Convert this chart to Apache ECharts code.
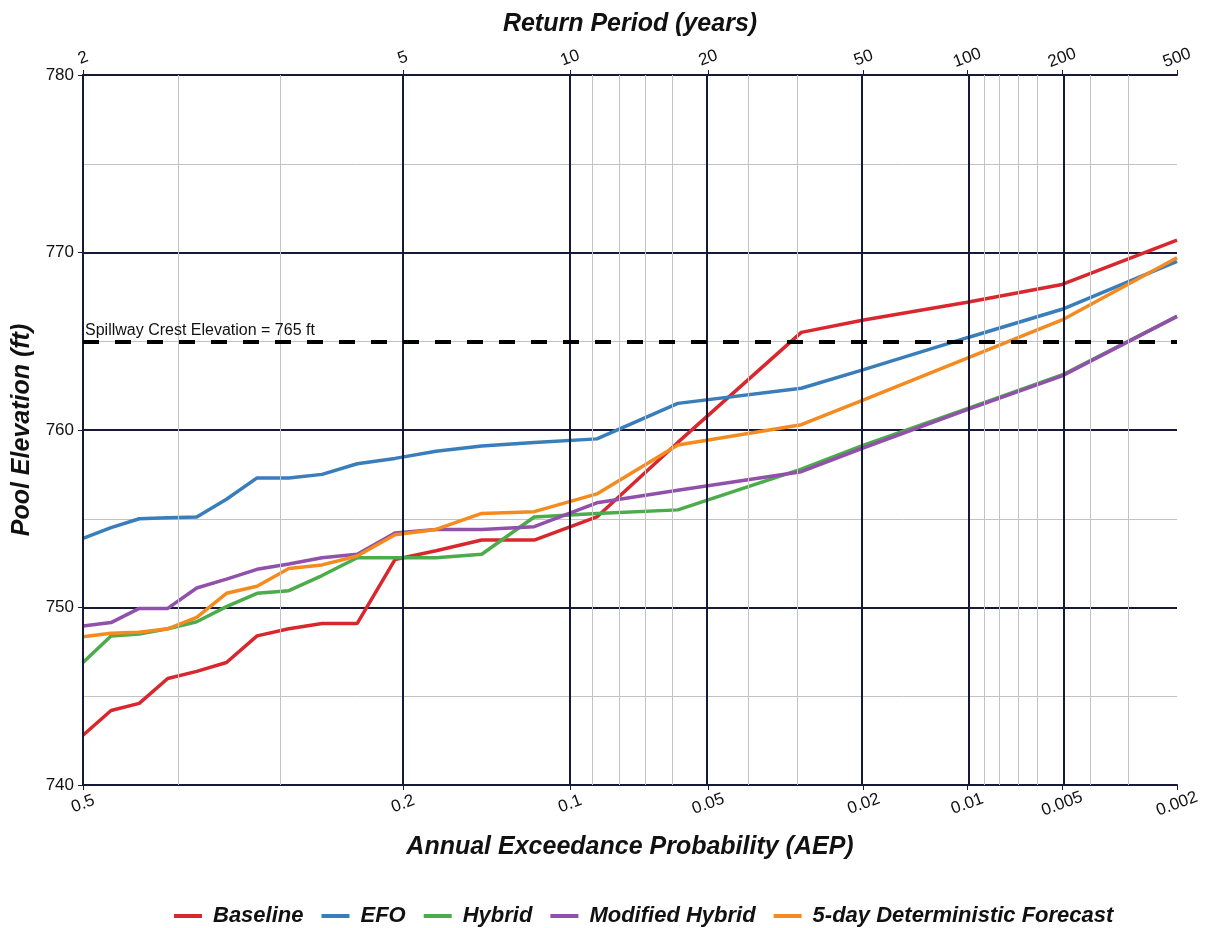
<!DOCTYPE html>
<html><head><meta charset="utf-8">
<script src="https://cdn.jsdelivr.net/npm/echarts@6/dist/echarts.min.js"></script>
<style>html,body{margin:0;padding:0;background:#fff}#c{width:1209px;height:928px}</style>
</head><body><div id="c"></div>
<script>
// Annual exceedance probabilities of the plotted points
const aep = [0.5, 0.4706, 0.4412, 0.4118, 0.3824, 0.3529, 0.3235, 0.2941, 0.2647, 0.2353, 0.2059,
             0.1765, 0.1471, 0.1176, 0.0882, 0.0588, 0.0294, 0.02, 0.01, 0.005, 0.002];
// Pool elevation (ft)
const baseline  = [742.8, 744.2, 744.6, 746.0, 746.4, 746.9, 748.4, 748.8, 749.1, 749.1, 752.7,
                   753.2, 753.8, 753.8, 755.1, 759.3, 765.5, 766.2, 767.2, 768.2, 770.7];
const efo       = [753.9, 754.5, 755.0, 755.05, 755.1, 756.1, 757.3, 757.3, 757.5, 758.1, 758.4,
                   758.8, 759.1, 759.3, 759.5, 761.5, 762.35, 763.4, 765.2, 766.8, 769.5];
const hybrid    = [746.9, 748.4, 748.5, 748.8, 749.2, 750.05, 750.8, 750.95, 751.8, 752.8, 752.8,
                   752.8, 753.0, 755.1, 755.3, 755.5, 757.8, 759.15, 761.2, 763.1, 766.4];
const modHybrid = [748.96, 749.15, 749.95, 749.95, 751.1, 751.6, 752.15, 752.45, 752.8, 753.0, 754.2,
                   754.4, 754.4, 754.55, 755.9, 756.6, 757.65, 759.0, 761.15, 763.05, 766.4];
const fiveDay   = [748.35, 748.55, 748.6, 748.8, 749.45, 750.8, 751.2, 752.2, 752.4, 752.9, 754.1,
                   754.4, 755.3, 755.4, 756.4, 759.15, 760.3, 761.7, 764.05, 766.2, 769.7];
const seriesNames = ['Baseline', 'EFO', 'Hybrid', 'Modified Hybrid', '5-day Deterministic Forecast'];
// Axis ticks
const majorAEP = [0.5, 0.2, 0.1, 0.05, 0.02, 0.01, 0.005, 0.002];
const aepLabels = ['0.5', '0.2', '0.1', '0.05', '0.02', '0.01', '0.005', '0.002'];
const returnLabels = ['2', '5', '10', '20', '50', '100', '200', '500'];
const minorAEP = [0.4, 0.3, 0.09, 0.08, 0.07, 0.06, 0.04, 0.03, 0.009, 0.008, 0.007, 0.006, 0.004, 0.003];
const spillway = 765;

// normal-probability scale: standard normal quantile
function normInv(p) {
  const a = [-3.969683028665376e+01, 2.209460984245205e+02, -2.759285104469687e+02, 1.383577518672690e+02, -3.066479806614716e+01, 2.506628277459239e+00];
  const b = [-5.447609879822406e+01, 1.615858368580409e+02, -1.556989798598866e+02, 6.680131188771972e+01, -1.328068155288572e+01];
  const c = [-7.784894002430293e-03, -3.223964580411365e-01, -2.400758277161838e+00, -2.549732539343734e+00, 4.374664141464968e+00, 2.938163982698783e+00];
  const d = [7.784695709041462e-03, 3.224671290700398e-01, 2.445134137142996e+00, 3.754408661907416e+00];
  const pl = 0.02425, ph = 1 - pl;
  let q, r;
  if (p < pl) {
    q = Math.sqrt(-2 * Math.log(p));
    return (((((c[0]*q+c[1])*q+c[2])*q+c[3])*q+c[4])*q+c[5]) / ((((d[0]*q+d[1])*q+d[2])*q+d[3])*q+1);
  } else if (p <= ph) {
    q = p - 0.5; r = q*q;
    return (((((a[0]*r+a[1])*r+a[2])*r+a[3])*r+a[4])*r+a[5])*q / (((((b[0]*r+b[1])*r+b[2])*r+b[3])*r+b[4])*r+1);
  } else {
    q = Math.sqrt(-2 * Math.log(1 - p));
    return -(((((c[0]*q+c[1])*q+c[2])*q+c[3])*q+c[4])*q+c[5]) / ((((d[0]*q+d[1])*q+d[2])*q+d[3])*q+1);
  }
}
const zOf = p => -normInv(p);
const majorZ = majorAEP.map(zOf);
const zMin = zOf(0.5), zMax = zOf(0.002);

const FONT = "Arial, 'Liberation Sans', sans-serif";
const DARK = '#161a38';
const colors = ['#d9272e', '#3a7dbb', '#4cab4a', '#9150a9', '#f58a1f'];
const values = [baseline, efo, hybrid, modHybrid, fiveDay];

function labelFor(list) {
  return v => {
    const i = majorZ.findIndex(z => Math.abs(z - v) < 1e-6);
    return i >= 0 ? list[i] : '';
  };
}
const titleStyle = {fontFamily: FONT, fontSize: 25, fontWeight: 'bold', fontStyle: 'italic', color: '#111'};
const tickLabel = {fontFamily: FONT, fontSize: 17, color: '#111'};

const gridLines = [
  ...minorAEP.map(a => ({xAxis: zOf(a), lineStyle: {color: '#c3c3c3', width: 1, type: 'solid'}})),
  ...majorAEP.map(a => ({xAxis: zOf(a), lineStyle: {color: DARK, width: 2, type: 'solid'}}))
];

const chart = echarts.init(document.getElementById('c'), null, {renderer: 'canvas'});
chart.setOption({
  animation: false,
  backgroundColor: '#fff',
  color: colors,
  grid: {left: 83, right: 32, top: 75, bottom: 143, containLabel: false, outerBoundsMode: 'none'},
  legend: {
    data: seriesNames, top: 900, left: 169,
    icon: 'rect', itemWidth: 28, itemHeight: 4, itemGap: 18,
    textStyle: {fontFamily: FONT, fontSize: 22, fontWeight: 'bold', fontStyle: 'italic', color: '#111', padding: [0, 0, 0, 6]}
  },
  xAxis: [
    {
      type: 'value', position: 'bottom', min: zMin, max: zMax,
      name: 'Annual Exceedance Probability (AEP)', nameLocation: 'middle', nameGap: 50,
      nameTextStyle: titleStyle,
      axisLine: {show: true, lineStyle: {color: DARK, width: 2}},
      axisTick: {show: true, inside: false, length: 5, customValues: majorZ, lineStyle: {color: DARK, width: 1}},
      axisLabel: Object.assign({customValues: majorZ, formatter: labelFor(aepLabels), rotate: 20,
        align: 'center', verticalAlign: 'middle', margin: 19, showMinLabel: true, showMaxLabel: true}, tickLabel),
      splitLine: {show: false}
    },
    {
      type: 'value', position: 'top', min: zMin, max: zMax,
      name: 'Return Period (years)', nameLocation: 'middle', nameGap: 38,
      nameTextStyle: titleStyle,
      axisLine: {show: true, lineStyle: {color: DARK, width: 2}},
      axisTick: {show: true, inside: false, length: 5, customValues: majorZ, lineStyle: {color: DARK, width: 1}},
      axisLabel: Object.assign({customValues: majorZ, formatter: labelFor(returnLabels), rotate: -20,
        align: 'center', verticalAlign: 'middle', margin: 17, showMinLabel: true, showMaxLabel: true}, tickLabel),
      splitLine: {show: false}
    }
  ],
  yAxis: {
    type: 'value', min: 740, max: 780, interval: 10,
    name: 'Pool Elevation (ft)', nameLocation: 'middle', nameGap: 46,
    nameTextStyle: titleStyle,
    axisLine: {show: true, lineStyle: {color: DARK, width: 2}},
    axisTick: {show: true, inside: false, length: 5, lineStyle: {color: DARK, width: 1}},
    axisLabel: Object.assign({margin: 9}, tickLabel),
    splitLine: {show: true, lineStyle: {color: DARK, width: 2}},
    minorTick: {show: false, splitNumber: 2},
    minorSplitLine: {show: true, lineStyle: {color: '#c3c3c3', width: 1}}
  },
  series: [
    {
      name: '_grid', type: 'line', xAxisIndex: 0, data: [[zMin, 740]], symbol: 'none', silent: true, z: 1,
      lineStyle: {width: 0}, legendHoverLink: false,
      markLine: {silent: true, symbol: ['none', 'none'], animation: false, label: {show: false}, data: gridLines}
    },
    {
      name: '_spill', type: 'line', xAxisIndex: 0, data: [[zMin, 740]], symbol: 'none', silent: true, z: 2,
      lineStyle: {width: 0},
      markLine: {
        silent: true, symbol: ['none', 'none'], animation: false,
        lineStyle: {color: '#000', width: 4, type: [16, 16]},
        label: {show: true, position: 'insideStartTop', distance: [2, 3], formatter: 'Spillway Crest Elevation = 765 ft',
          fontFamily: FONT, fontSize: 16, color: '#111'},
        data: [{yAxis: spillway}]
      }
    },
    ...seriesNames.map((n, k) => ({
      name: n, type: 'line', xAxisIndex: 0, z: 3, symbol: 'none', showSymbol: false,
      lineStyle: {width: 3.5, color: colors[k]}, itemStyle: {color: colors[k]},
      data: aep.map((a, i) => [zOf(a), values[k][i]])
    }))
  ]
});
</script>
</body></html>
